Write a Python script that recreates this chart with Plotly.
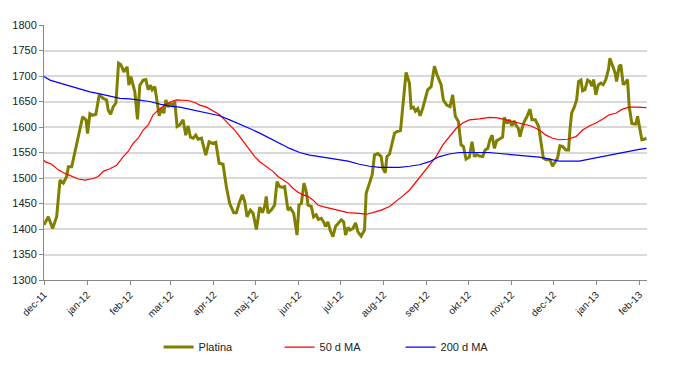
import pandas as pd
import plotly.graph_objects as go

START = "2011-12-01"

# Platina: day offset from START, price
plat_day = [0, 3.1, 6.2, 9.1, 11.5, 13.9, 16.3, 17.5, 19.9, 22.3, 23.5, 25.8, 27.8, 30.2, 31.3,
            33.0, 34.9, 37.3, 39.7, 42.6, 45.0, 46.2, 47.9, 49.8, 51.7, 53.6, 55.3, 57.4, 59.8,
            61.0, 62.5, 65.3, 67.2, 68.9, 71.3, 73.2, 74.9, 76.6, 77.8, 79.7, 80.9, 82.8, 84.5,
            86.1, 87.6, 89.3, 90.9, 92.4, 94.0, 95.7, 97.6, 100.0, 101.9, 103.6, 105.3, 107.2,
            109.1, 110.8, 113.2, 116.3, 118.7, 121.1, 123.5, 125.9, 128.7, 131.1, 133.5, 136.4,
            138.3, 140.2, 142.6, 144.3, 146.0, 148.4, 150.3, 152.7, 155.1, 157.0, 158.7, 159.8,
            161.0, 163.4, 165.8, 167.5, 169.4, 171.3, 173.0, 175.4, 177.1, 179.5, 181.9, 183.3,
            185.0, 186.9, 188.6, 189.8, 192.2, 193.8, 195.7, 197.2, 199.3, 201.0, 202.4, 204.1,
            205.8, 207.7, 209.6, 211.3, 213.7, 215.4, 216.8, 218.5,
            220.1, 222.1, 224.0, 225.6, 228.0, 230.4, 231.6, 234.0, 235.9, 237.6, 240.0, 242.4,
            243.6, 245.3, 246.5, 248.4, 250.3, 252.0, 253.7, 256.3, 258.4, 260.3, 262.7, 263.9,
            265.6, 267.0, 268.7, 270.4, 272.3, 274.2, 275.8, 278.3, 280.7, 282.6, 285.5, 287.1,
            289.5, 291.9, 293.8, 295.7, 297.9, 299.8, 301.5, 303.4, 305.8, 307.7, 309.4, 311.1,
            313.0, 315.4, 317.1, 319.0, 320.6, 322.1, 323.8, 325.4, 327.3, 329.7, 330.9, 332.8,
            334.5, 336.4, 338.1, 339.3, 341.0, 342.2, 343.6, 345.3, 347.0, 349.4, 350.8, 353.2,
            355.6, 357.3, 359.0, 360.9, 363.7, 365.6, 367.5, 369.2, 370.9, 372.8, 375.2, 377.1,
            378.1, 379.3, 381.2, 382.9, 384.3, 386.0, 387.2, 388.9, 390.8, 392.4, 393.9, 395.1,
            396.7, 398.4, 400.3, 402.0, 403.9, 405.8, 406.8, 408.7, 410.6, 411.6, 413.5, 414.7,
            416.4, 417.8, 419.5, 420.7, 422.6, 424.3, 425.5, 426.7, 428.3, 429.8, 431.5, 433.1]
plat_val = [1408, 1424, 1401, 1424, 1496, 1490, 1503, 1522, 1522, 1552, 1563, 1594, 1620, 1614, 1587,
            1626, 1623, 1625, 1663, 1656, 1653, 1633, 1625, 1640, 1647, 1725, 1722, 1708, 1718,
            1682, 1699, 1669, 1615, 1682, 1692, 1693, 1673, 1682, 1673, 1679, 1653, 1622, 1637,
            1627, 1653, 1639, 1647, 1640, 1650, 1601, 1604, 1614, 1584, 1602, 1580, 1578,
            1584, 1576, 1578, 1545, 1571, 1568, 1570, 1529, 1527, 1483, 1450, 1432,
            1432, 1450, 1467, 1454, 1424, 1437, 1431, 1399, 1443, 1432, 1445, 1464,
            1431, 1437, 1447, 1493, 1483, 1482, 1483, 1437, 1441, 1431, 1388, 1447,
            1450, 1490, 1473, 1447, 1444, 1424, 1428, 1419, 1421, 1414, 1405, 1414,
            1397, 1385, 1405, 1411, 1418, 1414, 1388, 1403,
            1398, 1401, 1412, 1395, 1386, 1398, 1470, 1490, 1506, 1545, 1548, 1542,
            1519, 1510, 1542, 1547, 1571, 1588, 1591, 1593, 1653, 1707, 1686, 1637,
            1639, 1631, 1636, 1622, 1637, 1660, 1673, 1679, 1719, 1702, 1683, 1653,
            1643, 1640, 1663, 1621, 1611, 1565, 1562, 1537, 1541, 1571, 1542, 1546,
            1543, 1542, 1555, 1558, 1575, 1584, 1558, 1573, 1576, 1580, 1619, 1607,
            1614, 1602, 1612, 1604, 1597, 1581, 1597, 1611, 1619, 1635, 1614, 1614,
            1601, 1569, 1539, 1536, 1536, 1523, 1531, 1539, 1563, 1562, 1555, 1555,
            1594, 1627, 1639, 1653, 1689, 1692, 1671, 1673, 1692, 1689, 1680, 1693,
            1663, 1682, 1686, 1683, 1693, 1713, 1735, 1722, 1706, 1689, 1719, 1722,
            1683, 1686, 1693, 1640, 1607, 1606, 1606, 1621, 1597, 1575, 1576, 1578]

# 50 d MA
ma50_day = [0, 0.7, 5.5, 10.3, 15.1, 19.9, 24.6, 29.4, 35.4, 39.0, 42.6, 47.4, 52.2, 57.0, 60.5,
            64.1, 67.7, 71.3, 74.9, 78.5, 82.1, 86.9, 91.6, 95.2, 98.8, 103.6, 108.4, 112.0,
            116.8, 121.6, 126.3, 129.9, 133.5, 137.1, 140.7, 144.3, 147.9, 151.5, 155.1, 159.8,
            164.6, 168.2, 171.8, 175.4, 179.0, 182.6, 186.2, 189.8, 193.3, 196.9, 200.5, 205.3,
            210.1, 214.9, 218.5, 224.5, 231.6, 236.4, 242.4, 248.4, 253.2, 258.0, 262.7, 267.5,
            272.3, 277.1, 281.9, 286.7, 291.5, 296.2, 301.0, 305.8, 313.0, 320.2, 326.2, 332.1,
            338.1, 344.1, 350.1, 356.1, 360.9, 365.6, 370.4, 376.4, 382.4, 387.2, 392.0, 396.7,
            401.5, 406.3, 411.1, 415.9, 420.7, 425.5, 433.1]
ma50_val = [1535, 1532, 1527, 1516, 1509, 1503, 1498, 1496, 1499, 1503, 1513, 1518, 1525, 1542, 1552,
            1568, 1578, 1594, 1604, 1624, 1633, 1643, 1650, 1653, 1653, 1652, 1648, 1643,
            1639, 1632, 1624, 1614, 1604, 1594, 1581, 1568, 1555, 1542, 1532, 1522,
            1513, 1503, 1497, 1490, 1480, 1472, 1467, 1464, 1457, 1447, 1444, 1441,
            1437, 1434, 1432, 1431, 1429, 1432, 1437, 1444, 1454, 1465, 1476, 1493,
            1509, 1525, 1542, 1565, 1581, 1597, 1608, 1614, 1616, 1619, 1618, 1614,
            1609, 1606, 1602, 1594, 1584, 1578, 1575, 1576, 1581, 1594, 1602, 1608,
            1615, 1624, 1627, 1635, 1639, 1639, 1638]

# 200 d MA
ma200_day = [0, 4.3, 11.5, 18.7, 25.8, 33.0, 40.2, 47.4, 54.6, 61.7, 68.9, 76.1, 83.3, 90.5, 97.6,
             104.8, 112.0, 119.2, 126.3, 133.5, 140.7, 147.9, 155.1, 162.2, 169.4, 176.6, 183.8,
             191.0, 198.1, 205.3, 212.5, 218.5, 226.8, 234.0, 241.2, 248.4, 255.6, 262.7, 269.9,
             277.1, 284.3, 291.5, 298.6, 305.8, 313.0, 320.2, 327.3, 334.5, 341.7, 348.9, 356.1,
             363.2, 370.4, 377.6, 384.8, 392.0, 399.1, 406.3, 413.5, 420.7, 427.9, 433.1]
ma200_val = [1699, 1692, 1686, 1680, 1675, 1669, 1665, 1660, 1656, 1655, 1653, 1650, 1645, 1641, 1639,
             1635, 1630, 1627, 1622, 1614, 1606, 1597, 1588, 1578, 1568, 1558, 1550,
             1545, 1542, 1539, 1535, 1533, 1527, 1523, 1521, 1521, 1521, 1523, 1526,
             1532, 1542, 1547, 1550, 1550, 1550, 1550, 1548, 1546, 1544, 1542, 1541,
             1537, 1533, 1533, 1533, 1537, 1541, 1545, 1548, 1552, 1556, 1558]

tick_dates = ["2011-12-01", "2012-01-01", "2012-02-01", "2012-03-01", "2012-04-01", "2012-05-01",
              "2012-06-01", "2012-07-01", "2012-08-01", "2012-09-01", "2012-10-01", "2012-11-01",
              "2012-12-01", "2013-01-01", "2013-02-01"]
tick_labels = ["dec-11", "jan-12", "feb-12", "mar-12", "apr-12", "maj-12", "jun-12", "jul-12",
               "aug-12", "sep-12", "okt-12", "nov-12", "dec-12", "jan-13", "feb-13"]
y_ticks = [1300, 1350, 1400, 1450, 1500, 1550, 1600, 1650, 1700, 1750, 1800]


def to_dates(days):
    return pd.Timestamp(START) + pd.to_timedelta(days, unit="D")


fig = go.Figure()
fig.add_trace(go.Scatter(x=to_dates(plat_day), y=plat_val, mode="lines", name="Platina",
                         line=dict(color="#808000", width=3)))
fig.add_trace(go.Scatter(x=to_dates(ma50_day), y=ma50_val, mode="lines", name="50 d MA",
                         line=dict(color="#ff0000", width=1.2)))
fig.add_trace(go.Scatter(x=to_dates(ma200_day), y=ma200_val, mode="lines", name="200 d MA",
                         line=dict(color="#0000ff", width=1.2)))

fig.update_layout(
    width=673, height=367,
    margin=dict(l=36, r=34, t=17, b=95, autoexpand=False),
    paper_bgcolor="white", plot_bgcolor="white",
    font=dict(family="Liberation Sans, Arial, sans-serif", size=11, color="#222222"),
    showlegend=True,
    legend=dict(orientation="h", x=0.19, xanchor="left", y=-0.263, yanchor="middle",
                font=dict(size=11), itemwidth=30, entrywidth=76, traceorder="normal"),
)
fig.update_xaxes(
    type="date",
    range=[to_dates(0), to_dates(433.5)],
    tickvals=[pd.Timestamp(d) for d in tick_dates],
    ticktext=tick_labels,
    tickangle=-45,
    showgrid=False,
    showline=True, linecolor="#888888", linewidth=1,
    ticks="outside", ticklen=4, tickcolor="#888888",
    tickfont=dict(size=10),
    zeroline=False,
)
fig.update_yaxes(
    range=[1300, 1800],
    tickvals=y_ticks,
    showgrid=True, gridcolor="#d9d9d9", gridwidth=1.5,
    showline=True, linecolor="#888888", linewidth=1,
    ticks="outside", ticklen=4, tickcolor="#888888",
    tickfont=dict(size=11),
    zeroline=False,
)

fig.write_html("out.html")
